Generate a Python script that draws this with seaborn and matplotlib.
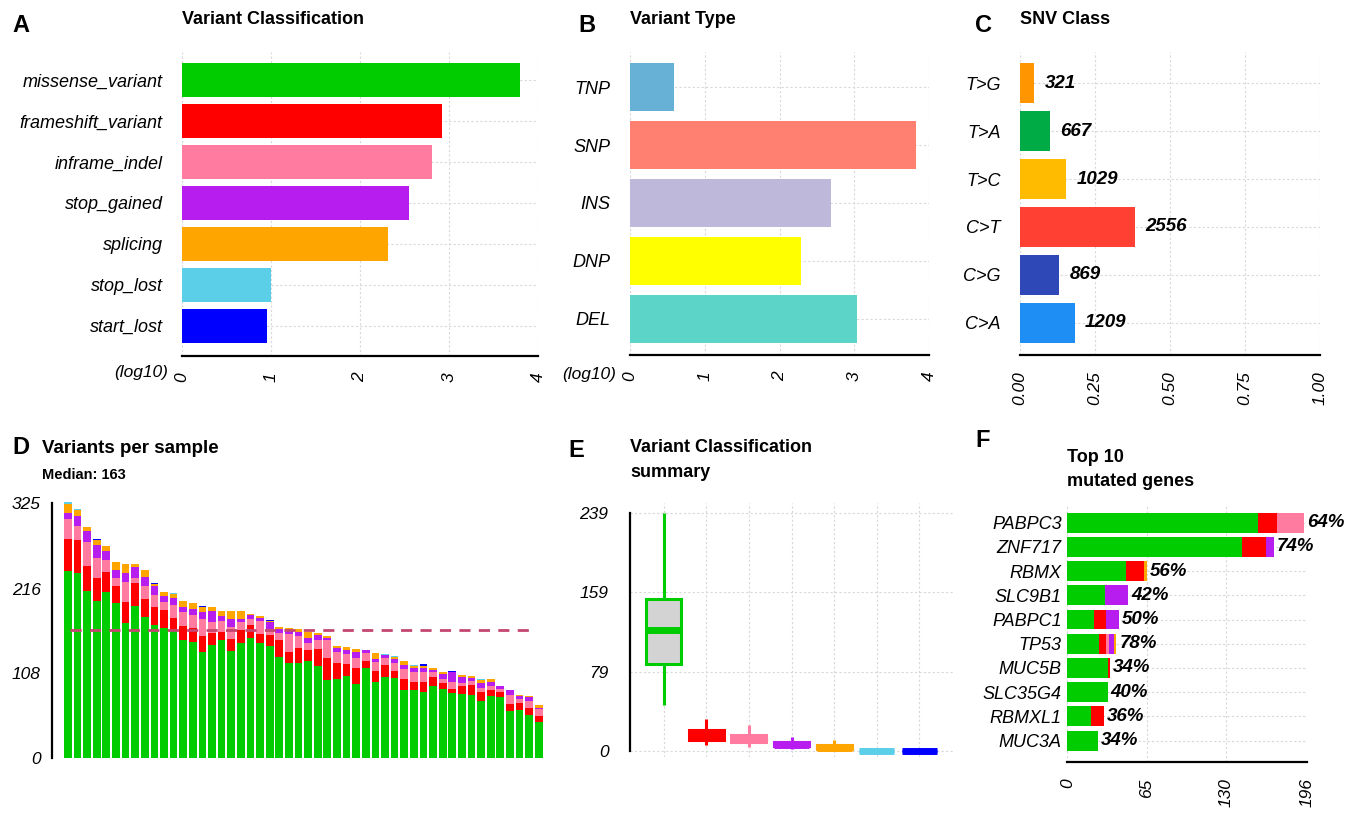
import matplotlib
matplotlib.use("Agg")
import matplotlib.pyplot as plt
import seaborn as sns
import pandas as pd
import numpy as np

# ---- data ----
vc_classes = ["missense_variant", "frameshift_variant", "inframe_indel", "stop_gained",
              "splicing", "stop_lost", "start_lost"]
vc_colors = ["#00CC00", "#FF0000", "#FF7B9F", "#B71DEE", "#FFA500", "#5BCFE8", "#0000FF"]
vc_log10 = [3.80, 2.92, 2.81, 2.55, 2.31, 1.00, 0.95]

vt_types = ["TNP", "SNP", "INS", "DNP", "DEL"]
vt_colors = ["#67B1D6", "#FF7F70", "#BEB9DA", "#FFFF00", "#5DD4C8"]
vt_log10 = [0.59, 3.82, 2.69, 2.29, 3.04]

snv_classes = ["T>G", "T>A", "T>C", "C>T", "C>G", "C>A"]
snv_colors = ["#FF9500", "#00AA44", "#FFBB00", "#FF4033", "#2E48B8", "#1E8EF5"]
snv_counts = [321, 667, 1029, 2556, 869, 1209]

# variants per sample, one list per classification (50 samples)
missense = [239, 236, 213, 200, 212, 198, 172, 194, 180, 170, 166, 162, 150, 148, 135, 144, 150,
            136, 146, 153, 146, 143, 129, 121, 121, 124, 117, 99, 100, 104, 94, 114, 97, 103, 102,
            86, 87, 84, 92, 88, 82, 81, 80, 73, 79, 77, 60, 61, 54, 46]
frameshift = [40, 42, 32, 29, 25, 21, 27, 29, 23, 23, 23, 17, 18, 18, 20, 15, 11, 16, 17, 16, 12,
              14, 21, 14, 19, 13, 22, 28, 21, 16, 20, 9, 14, 15, 9, 15, 10, 13, 11, 8, 6, 10, 13,
              11, 7, 7, 9, 9, 10, 7]
inframe = [26, 18, 31, 26, 16, 11, 26, 7, 16, 15, 10, 16, 18, 16, 22, 14, 14, 15, 10, 8, 16, 8, 9,
           23, 16, 10, 11, 23, 14, 13, 13, 11, 11, 9, 10, 12, 12, 12, 6, 4, 9, 5, 5, 5, 5, 4, 11,
           5, 8, 9]
stop_gained = [8, 13, 13, 17, 11, 10, 11, 14, 12, 11, 8, 9, 7, 8, 9, 14, 6, 10, 4, 5, 5, 8, 5, 5,
               5, 6, 7, 3, 5, 5, 8, 3, 4, 4, 5, 6, 6, 5, 3, 7, 13, 7, 4, 7, 6, 4, 6, 4, 5, 2]
splicing = [11, 7, 6, 6, 6, 10, 11, 3, 9, 3, 4, 5, 7, 8, 6, 5, 6, 10, 10, 2, 2, 2, 3, 3, 3, 7, 2,
            3, 3, 3, 4, 1, 8, 0, 3, 4, 2, 3, 2, 3, 0, 3, 2, 3, 3, 0, 0, 1, 2, 3]
stop_lost = [2, 1, 0, 0, 0, 0, 0, 0, 0, 0, 0, 1, 0, 0, 0, 0, 0, 0, 0, 0, 0, 0, 0, 0, 0, 0, 0, 0,
             0, 0, 0, 0, 0, 1, 1, 0, 1, 0, 0, 0, 0, 0, 0, 2, 0, 0, 0, 0, 0, 0]
start_lost = [0, 0, 0, 1, 0, 0, 0, 0, 0, 1, 0, 0, 0, 0, 2, 0, 0, 0, 0, 0, 0, 1, 0, 0, 0, 0, 0, 0,
              0, 1, 0, 0, 0, 0, 0, 0, 0, 3, 0, 0, 1, 0, 0, 0, 0, 0, 0, 0, 0, 0]
median_variants = 163
d_ticks = [0, 108, 216, 325]
e_ticks = [0, 79, 159, 239]

genes = ["PABPC3", "ZNF717", "RBMX", "SLC9B1", "PABPC1", "TP53", "MUC5B", "SLC35G4", "RBMXL1", "MUC3A"]
gene_missense = [156, 143, 48, 31, 22, 26, 33, 33, 19, 25]
gene_frameshift = [16, 20, 15, 0, 10, 6, 2, 0, 11, 0]
gene_inframe = [22, 0, 0, 0, 0, 2, 0, 0, 0, 0]
gene_stop_gained = [0, 6, 0, 19, 10, 4, 0, 0, 0, 0]
gene_splicing = [0, 0, 2, 0, 0, 2, 0, 0, 0, 0]
gene_pct = ["64%", "74%", "56%", "42%", "50%", "78%", "34%", "40%", "36%", "34%"]
f_ticks = [0, 65, 130, 196]

# ---- style ----
sns.set_style("white")
plt.rcParams["font.family"] = ["Liberation Sans", "DejaVu Sans"]
plt.rcParams["text.color"] = "black"
plt.rcParams["axes.labelcolor"] = "black"
plt.rcParams["xtick.color"] = "black"
plt.rcParams["ytick.color"] = "black"

W, H = 1356, 813
fig = plt.figure(figsize=(W / 100, H / 100), dpi=100)
grid_kw = dict(color="#D8D8D8", linestyle=(0, (2, 2)), linewidth=0.8)


def px_axes(left, top, right, bottom):
    return fig.add_axes([left / W, 1 - bottom / H, (right - left) / W, (bottom - top) / H])


def style_axis(ax, which="x"):
    for s in ["top", "right", "left", "bottom"]:
        ax.spines[s].set_visible(False)
    sp = ax.spines["bottom" if which == "x" else "left"]
    sp.set_visible(True)
    sp.set_linewidth(1.6)
    sp.set_color("black")
    ax.set_xlabel("")
    ax.set_ylabel("")


def hbar_panel(ax, labels, values, colors, xmax, ticks, ticklabels):
    df = pd.DataFrame({"label": labels, "value": values})
    sns.barplot(data=df, y="label", x="value", hue="label", palette=colors, width=0.83,
                saturation=1, legend=False, linewidth=0, ax=ax)
    ax.set_xlim(0, xmax)
    ax.set_xticks(ticks)
    ax.set_xticklabels(ticklabels, rotation=90, style="italic", fontsize=12.5)
    ax.tick_params(axis="x", length=7, width=1.6, pad=5, color="black", labelcolor="black")
    ax.tick_params(axis="y", length=0, pad=14, labelsize=13, labelcolor="black")
    for t in ax.get_yticklabels():
        t.set_style("italic")
    ax.grid(True, **grid_kw)
    ax.set_axisbelow(True)
    style_axis(ax, "x")
    ax.spines["bottom"].set_bounds(0, xmax)


# A: Variant Classification
axA = px_axes(182, 52, 538, 356)
hbar_panel(axA, vc_classes, vc_log10, vc_colors, 4, range(5), [str(i) for i in range(5)])
axA.set_ylim(6.74, -0.69)
fig.text(168 / W, 1 - 372 / H, "(log10)", ha="right", va="center", style="italic", fontsize=12.5)

# B: Variant Type
axB = px_axes(630, 52, 929, 355)
hbar_panel(axB, vt_types, vt_log10, vt_colors, 4, range(5), [str(i) for i in range(5)])
axB.set_ylim(4.63, -0.61)
fig.text(616 / W, 1 - 374 / H, "(log10)", ha="right", va="center", style="italic", fontsize=12.5)

# C: SNV Class
snv_frac = np.array(snv_counts) / np.sum(snv_counts)
axC = px_axes(1020, 52, 1320, 355)
hbar_panel(axC, snv_classes, snv_frac, snv_colors, 1.0, [0, 0.25, 0.5, 0.75, 1.0],
           ["0.00", "0.25", "0.50", "0.75", "1.00"])
axC.set_ylim(5.67, -0.65)
for i, (f, n) in enumerate(zip(snv_frac, snv_counts)):
    axC.text(f + 0.035, i, str(n), va="center", ha="left", fontsize=13.5,
             fontweight="bold", style="italic")

# D: Variants per sample (stacked)
sample_df = pd.DataFrame({"sample": [f"S{i:02d}" for i in range(len(missense))],
                          "missense_variant": missense, "frameshift_variant": frameshift,
                          "inframe_indel": inframe, "stop_gained": stop_gained,
                          "splicing": splicing, "stop_lost": stop_lost, "start_lost": start_lost})
axD = px_axes(52, 499.3, 543, 757.7)
cum = sample_df[vc_classes].cumsum(axis=1)
for k in reversed(range(len(vc_classes))):
    sns.barplot(x=sample_df["sample"], y=cum[vc_classes[k]], color=vc_colors[k], width=0.8,
                saturation=1, linewidth=0, order=sample_df["sample"], ax=axD)
axD.hlines(median_variants, 0.2, len(missense) - 1.3, colors="#C4476F", linestyles=(0, (4, 3)),
           linewidth=2, zorder=5)
axD.set_xlim(-1.65, 49.44)
axD.set_ylim(0, 330)
axD.set_xticks([])
axD.set_yticks(d_ticks)
axD.set_yticklabels([str(t) for t in d_ticks], style="italic", fontsize=12.5)
axD.tick_params(axis="y", length=7, width=1.6, pad=1, color="black", labelcolor="black")
style_axis(axD, "y")
axD.spines["left"].set_bounds(0, 325)

# E: Variant Classification summary (boxplots from per-sample counts)
long_df = sample_df.melt(id_vars="sample", value_vars=vc_classes, var_name="cls", value_name="n")
axE = px_axes(630, 503, 953, 757)
for k, cls in enumerate(vc_classes):
    sub = long_df[long_df["cls"] == cls]
    fill = "#D3D3D3" if k == 0 else vc_colors[k]
    sns.boxplot(data=sub, x="cls", y="n", order=vc_classes, color=fill, linecolor=vc_colors[k],
                linewidth=2.2, width=0.82, showcaps=False, showfliers=False, saturation=1,
                medianprops={"color": vc_colors[k], "linewidth": 5}, ax=axE)
axE.set_xlim(-0.79, 6.79)
axE.set_ylim(-6.3, 248.7)
axE.set_xticks(range(7))
axE.set_xticklabels([""] * 7)
axE.tick_params(axis="x", length=0)
axE.set_yticks(e_ticks)
axE.set_yticklabels([str(t) for t in e_ticks], style="italic", fontsize=12.5)
axE.tick_params(axis="y", length=7.5, width=1.6, pad=8, color="black", labelcolor="black")
axE.grid(True, **grid_kw)
axE.set_axisbelow(True)
style_axis(axE, "y")
axE.spines["left"].set_bounds(0, 239)

# F: Top 10 mutated genes (stacked horizontal)
gene_df = pd.DataFrame({"gene": genes, "missense_variant": gene_missense,
                        "frameshift_variant": gene_frameshift, "inframe_indel": gene_inframe,
                        "stop_gained": gene_stop_gained, "splicing": gene_splicing})
f_classes = vc_classes[:5]
gcum = gene_df[f_classes].cumsum(axis=1)
axF = px_axes(1067.3, 505, 1306.7, 761.7)
for k in reversed(range(len(f_classes))):
    sns.barplot(y=gene_df["gene"], x=gcum[f_classes[k]], color=vc_colors[k], width=0.82,
                saturation=1, linewidth=0, order=gene_df["gene"], orient="h", ax=axF)
totals = gcum[f_classes[-1]]
for i, (tot, pct) in enumerate(zip(totals, gene_pct)):
    axF.text(tot + 2.5, i, pct, va="center", ha="left", fontsize=13.5, fontweight="bold",
             style="italic")
axF.set_xlim(0, 196)
axF.set_ylim(9.87, -0.73)
axF.set_xticks(f_ticks)
axF.set_xticklabels([str(t) for t in f_ticks], rotation=90, style="italic", fontsize=12.5)
axF.tick_params(axis="x", length=7, width=1.6, pad=5, color="black", labelcolor="black")
axF.tick_params(axis="y", length=0, pad=4, labelsize=13, labelcolor="black")
for t in axF.get_yticklabels():
    t.set_style("italic")
axF.grid(True, **grid_kw)
axF.set_axisbelow(True)
style_axis(axF, "x")
axF.spines["bottom"].set_bounds(0, 196)

# titles and panel letters
def label(x, y, s, size, **kw):
    fig.text(x / W, 1 - y / H, s, fontsize=size, fontweight="bold", va="center", ha="left",
             color="black", **kw)


label(12, 25, "A", 17)
label(578, 25, "B", 17)
label(975, 25, "C", 17)
label(12, 447, "D", 17)
label(568, 450, "E", 17)
label(975, 440, "F", 17)
label(182, 20, "Variant Classification", 13)
label(630, 20, "Variant Type", 13)
label(1020, 20, "SNV Class", 13)
label(42, 448, "Variants per sample", 13.5)
label(42, 475, "Median: 163", 10.5)
label(630, 447, "Variant Classification", 13)
label(630, 472, "summary", 13)
label(1067, 457, "Top 10", 13)
label(1067, 481, "mutated genes", 13)

fig.savefig("out.png", dpi=100, facecolor="white")
